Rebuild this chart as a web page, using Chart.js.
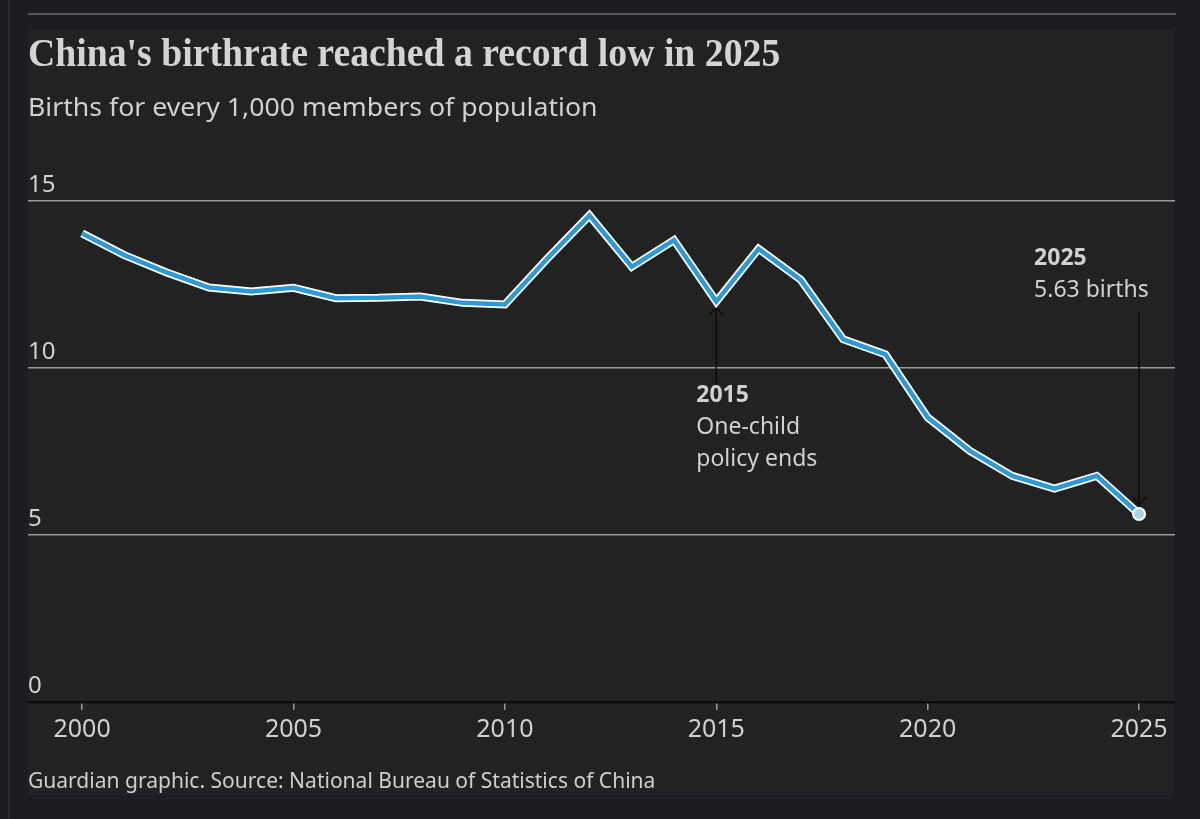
<!DOCTYPE html>
<html>
<head>
<meta charset="utf-8">
<script src="https://cdn.jsdelivr.net/npm/chart.js@4/dist/chart.umd.min.js"></script>
<style>
  html, body { margin: 0; padding: 0; background: #1d1c22; }
  #wrap { position: relative; width: 1200px; height: 819px; overflow: hidden; }
  #sideline { position: absolute; left: 8px; top: 0; width: 2px; height: 819px; background: #2c2b31; }
  #topline { position: absolute; left: 28px; top: 13px; width: 1148px; height: 2px; background: #56555b; }
  #panel { position: absolute; left: 28px; top: 30px; width: 1146px; height: 765px; background: #222222; }
  canvas { position: absolute; left: 0; top: 0; }
  .txt { position: absolute; left: 28px; white-space: nowrap; transform-origin: 0 0; line-height: 1; }
  #title { top: 32px; font-family: "Liberation Serif", serif; font-weight: bold; font-size: 41px; color: #d4d4d4; }
  #subtitle { top: 93px; font-family: "Noto Sans", sans-serif; font-size: 26px; color: #d0d0d0; }
  #footer { top: 768px; font-family: "Noto Sans", sans-serif; font-size: 22px; color: #cfcfcf; }
</style>
</head>
<body>
<div id="wrap">
  <div id="sideline"></div>
  <div id="topline"></div>
  <div id="panel"></div>
  <canvas id="line_chart" width="1200" height="819"></canvas>
  <div class="txt" id="title">China's birthrate reached a record low in 2025</div>
  <div class="txt" id="subtitle">Births for every 1,000 members of population</div>
  <div class="txt" id="footer">Guardian graphic. Source: National Bureau of Statistics of China</div>
</div>
<script>
// births per 1,000 people
const years = [2000, 2001, 2002, 2003, 2004, 2005, 2006, 2007, 2008, 2009, 2010, 2011, 2012,
    2013, 2014, 2015, 2016, 2017, 2018, 2019, 2020, 2021, 2022, 2023, 2024, 2025]
const birthRate = [14.03, 13.38, 12.86, 12.41, 12.29, 12.40, 12.09, 12.10, 12.14, 11.95, 11.90, 13.27, 14.57,
    13.03, 13.83, 11.99, 13.57, 12.64, 10.86, 10.41, 8.52, 7.52, 6.77, 6.39, 6.77, 5.63]
const xTicks = [2000, 2005, 2010, 2015, 2020, 2025]
const yTicks = [0, 5, 10, 15]

// squeeze the html text to the width it has in the graphic
const fitWidth = (id, w) => {
    const el = document.getElementById(id)
    el.style.transform = 'scaleX(' + (w / el.scrollWidth) + ')'
}
fitWidth('title', 752)
fitWidth('subtitle', 569)
fitWidth('footer', 627)

const textColor = '#d0d0d0'
const sans = '"Noto Sans", sans-serif'

const points = years.map((y, i) => ({ x: y, y: birthRate[i] }))
const last = points.length - 1

const arrow = (ctx, x, y1, y2) => {
    // line from y1 to y2, open head at y2
    const dir = y2 > y1 ? 1 : -1
    ctx.beginPath()
    ctx.moveTo(x, y1)
    ctx.lineTo(x, y2)
    ctx.moveTo(x - 7, y2 - dir * 8)
    ctx.lineTo(x, y2)
    ctx.lineTo(x + 7, y2 - dir * 8)
    ctx.stroke()
}

const extras = {
    id: 'extras',
    beforeDatasetsDraw(chart) {
        const ctx = chart.ctx
        const xs = chart.scales.x
        const ys = chart.scales.y
        ctx.save()

        // y tick labels sit above their gridlines
        ctx.fillStyle = textColor
        ctx.font = '24px ' + sans
        ctx.textAlign = 'left'
        ctx.textBaseline = 'alphabetic'
        yTicks.forEach(v => ctx.fillText(String(v), 28, ys.getPixelForValue(v) - 9))

        // annotation arrows
        ctx.strokeStyle = '#0b0b0b'
        ctx.lineWidth = 1.5
        const x15 = xs.getPixelForValue(2015)
        const y15 = ys.getPixelForValue(birthRate[years.indexOf(2015)])
        arrow(ctx, x15, y15 + 84, y15 + 6)
        const x25 = xs.getPixelForValue(2025)
        const y25 = ys.getPixelForValue(birthRate[last])
        arrow(ctx, x25, y25 - 203, y25 - 9)

        // annotation text
        ctx.fillStyle = textColor
        ctx.font = 'bold 23px ' + sans
        ctx.fillText('2015', x15 - 20, y15 + 100)
        ctx.fillText('2025', x25 - 105, y25 - 249)
        ctx.font = '23px ' + sans
        ctx.fillText('One-child', x15 - 20, y15 + 132)
        ctx.fillText('policy ends', x15 - 20, y15 + 164)
        ctx.fillText('5.63 births', x25 - 105, y25 - 217)
        ctx.restore()
    }
}

new Chart(document.getElementById('line_chart'), {
    type: 'line',
    data: {
        datasets: [
            {
                data: points,
                borderColor: '#2b9ad6',
                borderWidth: 4.5,
                pointRadius: ctx => ctx.dataIndex === last ? 6 : 0,
                pointBackgroundColor: '#a8d3ee',
                pointBorderColor: '#ffffff',
                pointBorderWidth: 2,
                tension: 0,
                order: 0,
            },
            {
                data: points,
                borderColor: '#ffffff',
                borderWidth: 8,
                pointRadius: 0,
                tension: 0,
                order: 1,
            },
        ],
    },
    options: {
        responsive: false,
        animation: false,
        events: [],
        layout: { padding: { left: 28, right: 25, top: 201, bottom: 77 } },
        plugins: { legend: false, tooltip: { enabled: false } },
        scales: {
            x: {
                type: 'linear',
                min: 1998.72,
                max: 2025.85,
                afterBuildTicks: scale => { scale.ticks = xTicks.map(v => ({ value: v })) },
                afterFit: scale => { scale.height = 40 },
                border: { display: false },
                grid: { drawOnChartArea: false, drawTicks: true, tickLength: 8, color: '#9a9a9a', lineWidth: 1.5 },
                ticks: { color: textColor, font: { family: sans, size: 25 }, padding: 5, maxRotation: 0,
                    callback: v => String(v) },
            },
            y: {
                min: 0,
                max: 15,
                afterBuildTicks: scale => { scale.ticks = yTicks.map(v => ({ value: v })) },
                afterFit: scale => { scale.width = 0 },
                border: { display: false },
                grid: {
                    drawTicks: false,
                    color: c => c.tick && c.tick.value === 0 ? '#0d0d0d' : '#9a9a9a',
                    lineWidth: c => c.tick && c.tick.value === 0 ? 2.5 : 1.5,
                },
                ticks: { display: false },
            },
        },
    },
    plugins: [extras],
})
</script>
</body>
</html>
